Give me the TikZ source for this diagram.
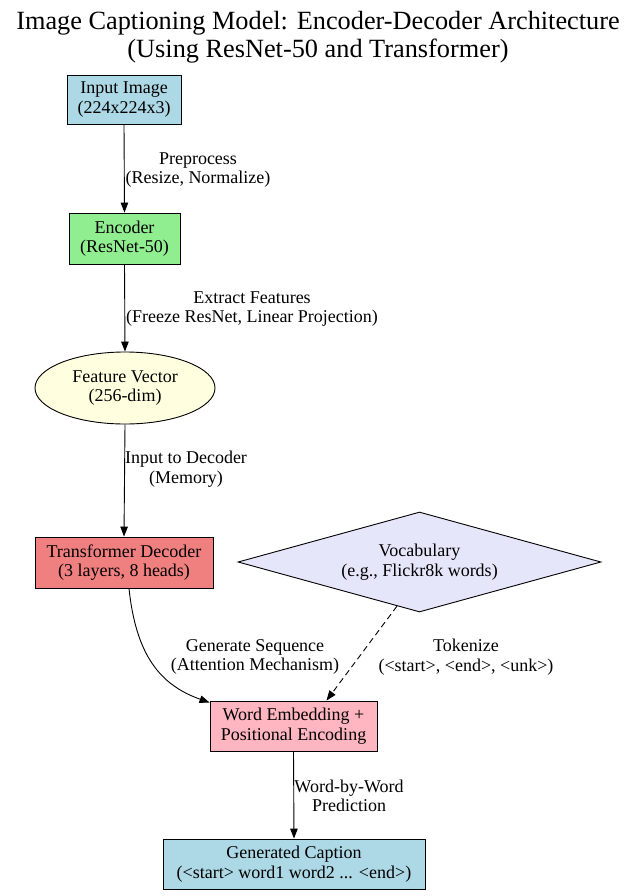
\documentclass[tikz,border=0pt]{standalone}
\usepackage{fontspec}
\setmainfont{Liberation Serif}
\usetikzlibrary{shapes.geometric,arrows.meta,calc}
\definecolor{lblue}{HTML}{ADD8E6}
\definecolor{lgreen}{HTML}{90EE90}
\definecolor{lyellow}{HTML}{FFFFE0}
\definecolor{lcoral}{HTML}{F08080}
\definecolor{lav}{HTML}{E6E6FA}
\definecolor{lpink}{HTML}{FFB6C1}
\begin{document}
\begin{tikzpicture}[x=1pt,y=-1pt,
  every node/.style={font=\fontsize{18}{19.5}\selectfont, align=center, inner sep=0pt},
  box/.style={draw=black, line width=0.9pt, rectangle},
  lbl/.style={},
  arr/.style={draw=black, line width=0.9pt, -{Triangle[length=10pt,width=7.5pt]}},
]
\useasboundingbox (0,0) rectangle (636,896);
\node[font=\fontsize{26.3}{28}\selectfont] (title) at (318,37) {Image Captioning Model: Encoder-Decoder Architecture\\(Using ResNet-50 and Transformer)};

\node[box, fill=lblue, minimum width=114pt, minimum height=49pt] (inp) at (124,99.5) {Input Image\\(224x224x3)};
\node[box, fill=lgreen, minimum width=111pt, minimum height=51pt] (enc) at (124.5,238.5) {Encoder\\(ResNet-50)};
\node[draw=black, line width=0.9pt, ellipse, fill=lyellow, minimum width=180pt, minimum height=72pt] (feat) at (125,388) {Feature Vector\\(256-dim)};
\node[box, fill=lcoral, minimum width=178pt, minimum height=51pt] (dec) at (124,562.5) {Transformer Decoder\\(3 layers, 8 heads)};
\node[draw=black, line width=0.9pt, diamond, aspect=3.6, fill=lav, minimum width=363pt, minimum height=100pt] (voc) at (419.5,562) {Vocabulary\\(e.g., Flickr8k words)};
\node[box, fill=lpink, minimum width=167pt, minimum height=50pt] (wemb) at (293.5,726) {Word Embedding +\\Positional Encoding};
\node[box, fill=lblue, minimum width=262pt, minimum height=50pt] (cap) at (294,864) {Generated Caption\\(<start> word1 word2 ... <end>)};

\node[lbl] (l1) at (198,170) {Preprocess\\(Resize, Normalize)};
\node[lbl] (l2) at (252,309) {Extract Features\\(Freeze ResNet, Linear Projection)};
\node[lbl] (l3) at (186,469) {Input to Decoder\\(Memory)};
\node[lbl] (l4) at (255,657) {Generate Sequence\\(Attention Mechanism)};
\node[lbl] (l5) at (466,657) {Tokenize\\(<start>, <end>, <unk>)};
\node[lbl] (l6) at (349,796) {Word-by-Word\\Prediction};

\draw[arr] (inp.south) -- (enc.north);
\draw[arr] (enc.south) -- (feat.north);
\draw[arr] (feat.south) -- (dec.north);
\coordinate (ds) at ($(dec.south)+(5,0)$);
\coordinate (we) at ($(wemb.north west)+(0,2)$);
\draw[arr] (ds) .. controls (136,655) and (160,685) .. (we);
\coordinate (vs) at ($(voc.south)!0.124!(voc.west)$);
\coordinate (wn) at ($(wemb.north)+(33,0)$);
\draw[arr, dashed, dash pattern=on 6pt off 4pt] (vs) -- (wn);
\draw[arr] (wemb.south) -- (cap.north);
\end{tikzpicture}
\end{document}
